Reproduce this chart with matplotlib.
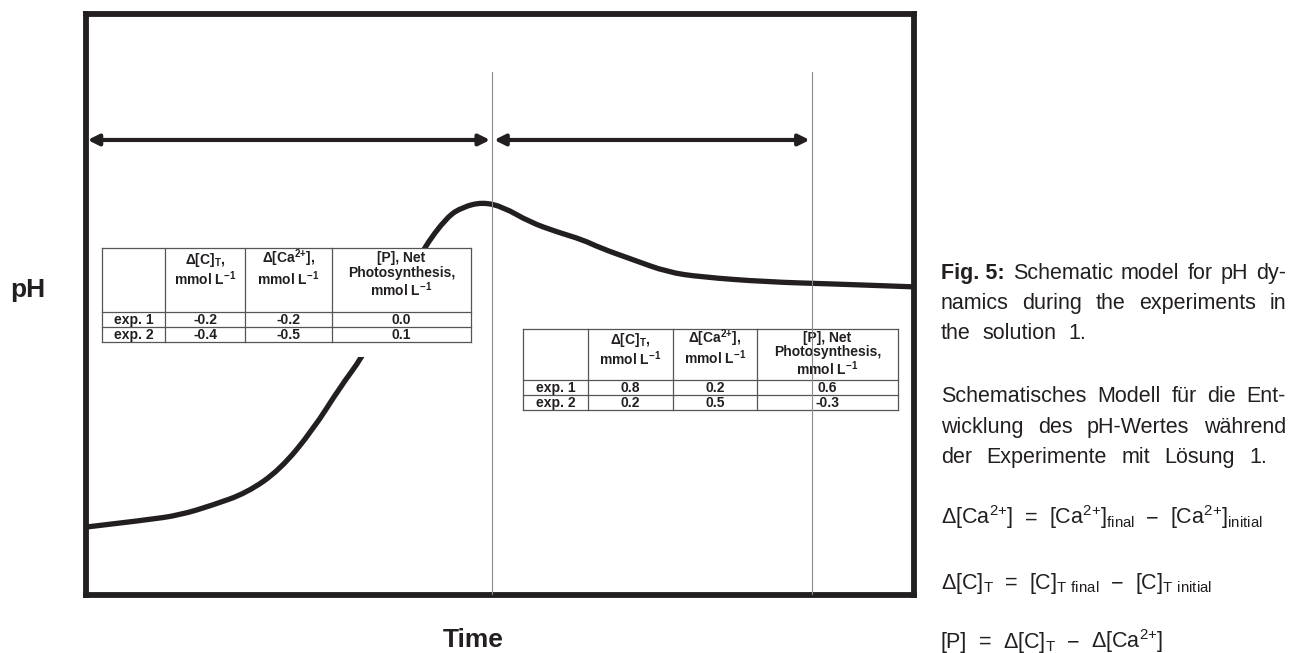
import matplotlib
matplotlib.use("Agg")
import matplotlib.pyplot as plt
from matplotlib.path import Path
from matplotlib.patches import PathPatch, Rectangle

plt.rcParams['font.family'] = ['Liberation Sans', 'DejaVu Sans']
plt.rcParams['mathtext.default'] = 'regular'
plt.rcParams['mathtext.fontset'] = 'custom'
plt.rcParams['mathtext.rm'] = 'Liberation Sans'

# ---------------- data ----------------
time_pts = [0.02, 0.74, 1.14, 1.53, 1.94, 2.34, 2.74, 3.07, 3.33, 3.73, 4.07,
            4.36, 4.55, 4.79, 5.04, 5.36, 5.69, 6.00, 6.21, 6.61, 7.02, 7.42,
            8.22, 9.02, 9.99]
ph_pts = [7.233, 7.257, 7.274, 7.308, 7.350, 7.429, 7.567, 7.715, 7.815, 8.015,
          8.190, 8.301, 8.335, 8.352, 8.335, 8.283, 8.249, 8.222, 8.194, 8.153,
          8.111, 8.094, 8.077, 8.070, 8.060]

phase_bounds = [4.90, 8.77]          # thin vertical lines (time)
arrow1 = [0.02, 4.88]                # phase arrows (time)
arrow2 = [4.93, 8.74]
arrow_ph = 8.566

table_header = [[""],
                ["Δ[C]$_{T}$,", "mmol L$^{-1}$"],
                ["Δ[Ca$^{2{+}}$],", "mmol L$^{-1}$"],
                ["[P], Net", "Photosynthesis,", "mmol L$^{-1}$"]]
row_labels = ["exp. 1", "exp. 2"]
left_dC = ["-0.2", "-0.4"]
left_dCa = ["-0.2", "-0.5"]
left_P = ["0.0", "0.1"]
right_dC = ["0.8", "0.2"]
right_dCa = ["0.2", "0.5"]
right_P = ["0.6", "-0.3"]

x_label = "Time"
y_label = "pH"

# ---------------- figure ----------------
W, H = 1290, 653
fig = plt.figure(figsize=(W / 100, H / 100), dpi=100)
ax0 = fig.add_axes([0, 0, 1, 1])
ax0.set_xlim(0, W)
ax0.set_ylim(H, 0)
ax0.axis('off')

L, R, T, B = 86, 914, 14, 594.5
ax = fig.add_axes([L / W, (H - B) / H, (R - L) / W, (B - T) / H])
ax.set_xlim(0, 10)
ax.set_ylim(7, 9)
ax.set_xticks([])
ax.set_yticks([])
ink = '#231f20'
for s in ax.spines.values():
    s.set_linewidth(4.2)
    s.set_color(ink)
ax.patch.set_alpha(0)

# curve (smooth quadratic path through read points)
pts = list(zip(time_pts, ph_pts))
verts = [pts[0]]
codes = [Path.MOVETO]
for i in range(1, len(pts) - 1):
    mid = ((pts[i][0] + pts[i + 1][0]) / 2, (pts[i][1] + pts[i + 1][1]) / 2)
    verts += [pts[i], mid]
    codes += [Path.CURVE3, Path.CURVE3]
verts.append(pts[-1])
codes.append(Path.LINETO)
ax.add_patch(PathPatch(Path(verts, codes), fill=False, lw=3.8, color=ink,
                       capstyle='butt', joinstyle='round', zorder=2))

for xb in phase_bounds:
    ax.plot([xb, xb], [7, 8.80], color='#8a8a8a', lw=0.8, zorder=6)

for a in (arrow1, arrow2):
    ax.annotate('', xy=(a[1], arrow_ph), xytext=(a[0], arrow_ph),
                arrowprops=dict(arrowstyle='<|-|>', lw=3.0, color=ink,
                                mutation_scale=16, shrinkA=0, shrinkB=0),
                zorder=6)

# ---------------- tables ----------------
tr = ax0.transData
tfs = 10


def draw_table(cols, rows, vals, top_pad, lsp, bottom_pad=0):
    x0, x1 = cols[0], cols[-1]
    y0, y1 = rows[0], rows[-1]
    ax.add_patch(Rectangle((x0, y0), x1 - x0, y1 - y0 + bottom_pad, transform=tr,
                           facecolor='white', edgecolor='none', zorder=3,
                           clip_on=False))
    lc = '#555555'
    for y in rows:
        ax.plot([x0, x1], [y, y], color=lc, lw=0.9, transform=tr, zorder=4, clip_on=False)
    for x in cols:
        ax.plot([x, x], [y0, y1], color=lc, lw=0.9, transform=tr, zorder=4, clip_on=False)
    for j, lines in enumerate(table_header):
        if not any(lines):
            continue
        cx = (cols[j] + cols[j + 1]) / 2
        shift = -4 if '^' in lines[0] else 0
        ax.text(cx, y0 + top_pad + shift, "\n".join(lines), transform=tr, ha='center',
                va='top', multialignment='center', linespacing=lsp,
                fontsize=tfs, fontweight='bold', zorder=5, clip_on=False, color=ink)
    for i in range(2):
        cy = (rows[1 + i] + rows[2 + i]) / 2 + 0.5
        ax.text((cols[0] + cols[1]) / 2, cy, row_labels[i], transform=tr, ha='center',
                va='center', fontsize=tfs, fontweight='bold', zorder=5, clip_on=False,
                color=ink)
        for j in range(3):
            cx = (cols[j + 1] + cols[j + 2]) / 2
            ax.text(cx, cy, vals[j][i], transform=tr, ha='center', va='center',
                    fontsize=tfs, fontweight='bold', zorder=5, clip_on=False, color=ink)


draw_table([102, 165, 245, 332, 471], [248, 312, 327, 342],
           [left_dC, left_dCa, left_P], 3, 1.05, bottom_pad=15)
draw_table([523, 588, 673, 757, 898], [329, 380, 395, 410],
           [right_dC, right_dCa, right_P], 2, 1.0)

# axis labels
ax0.text(28, 290, y_label, fontsize=19, fontweight='bold', ha='center', va='center', color=ink)
ax0.text(473, 640, x_label, fontsize=19, fontweight='bold', ha='center', va='center', color=ink)

# ---------------- caption ----------------
renderer = fig.canvas.get_renderer()
cfs = 15.5
X0, X1 = 941, 1286


def width(s, weight='normal', size=cfs):
    t = ax0.text(0, 0, s, fontsize=size, fontweight=weight)
    w = t.get_window_extent(renderer).width
    t.remove()
    return w


def put_line(words, y, justify=True, gap_scale=2.0):
    items = [(w, 'normal') if isinstance(w, str) else w for w in words]
    ws = [width(s, wt) for s, wt in items]
    if justify and len(items) > 1:
        gap = (X1 - X0 - sum(ws)) / (len(items) - 1)
    else:
        gap = width('a b') - width('ab')
        gap *= gap_scale
    x = X0
    for (s, wt), w in zip(items, ws):
        ax0.text(x, y, s, fontsize=cfs, fontweight=wt, ha='left', va='baseline', color=ink)
        x += w + gap


put_line([("Fig. 5:", 'bold'), "Schematic", "model", "for", "pH", "dy-"], 279)
put_line("namics during the experiments in".split(), 309)
put_line("the solution 1.".split(), 339, justify=False, gap_scale=2.0)
put_line("Schematisches Modell für die Ent-".split(), 402)
put_line("wicklung des pH-Wertes während".split(), 433)
put_line("der Experimente mit Lösung 1.".split(), 463, justify=False, gap_scale=2.4)

formulas = [
    ["Δ[Ca$^{2{+}}$]", "=", "[Ca$^{2{+}}$]$_{final}$", "−", "[Ca$^{2{+}}$]$_{initial}$"],
    ["Δ[C]$_{T}$", "=", "[C]$_{T\\ final}$", "−", "[C]$_{T\\ initial}$"],
    ["[P]", "=", "Δ[C]$_{T}$", "−", "Δ[Ca$^{2{+}}$]"],
]
for f, y in zip(formulas, [524, 589, 648]):
    put_line(f, y, justify=False, gap_scale=1.9)

fig.savefig("out.png", dpi=100)
